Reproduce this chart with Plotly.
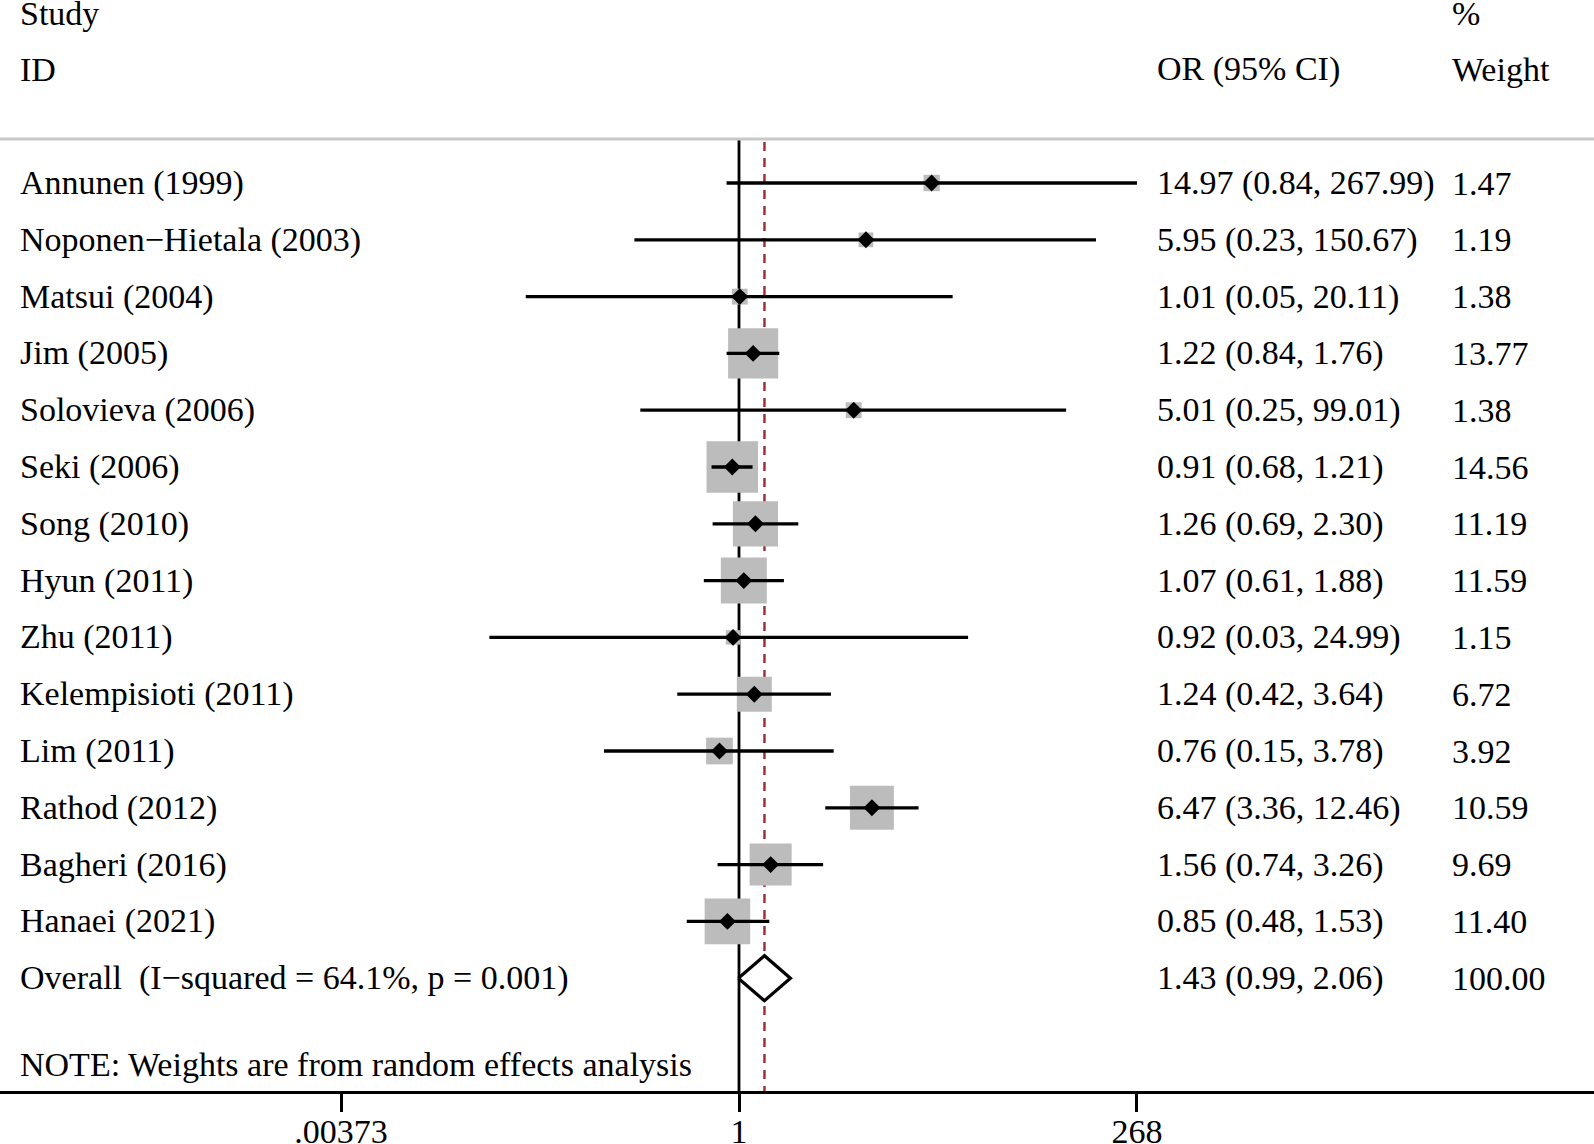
import math
import plotly.graph_objects as go

# ---------------- data ----------------
studies = ["Annunen (1999)", "Noponen\u2212Hietala (2003)", "Matsui (2004)", "Jim (2005)",
           "Solovieva (2006)", "Seki (2006)", "Song (2010)", "Hyun (2011)", "Zhu (2011)",
           "Kelempisioti (2011)", "Lim (2011)", "Rathod (2012)", "Bagheri (2016)", "Hanaei (2021)"]
or_vals = [14.97, 5.95, 1.01, 1.22, 5.01, 0.91, 1.26, 1.07, 0.92, 1.24, 0.76, 6.47, 1.56, 0.85]
ci_low = [0.84, 0.23, 0.05, 0.84, 0.25, 0.68, 0.69, 0.61, 0.03, 0.42, 0.15, 3.36, 0.74, 0.48]
ci_high = [267.99, 150.67, 20.11, 1.76, 99.01, 1.21, 2.30, 1.88, 24.99, 3.64, 3.78, 12.46, 3.26, 1.53]
weights = [1.47, 1.19, 1.38, 13.77, 1.38, 14.56, 11.19, 11.59, 1.15, 6.72, 3.92, 10.59, 9.69, 11.40]
overall_label = "Overall  (I\u2212squared = 64.1%, p = 0.001)"
overall_or, overall_low, overall_high, overall_weight = 1.43, 0.99, 2.06, 100.00
tick_vals = [0.00373, 1, 268]
tick_text = [".00373", "1", "268"]
note_text = "NOTE: Weights are from random effects analysis"

# ---------------- layout geometry ----------------
FW, FH = 1594, 1144
AX_Y = 1091                  # pixel row of the x axis
ROW0, ROWH = 183, 56.8       # pixel centre of first row, row spacing
X1PX, DEC = 739, 163.9       # pixel of OR=1, pixels per decade

def row_of_px(p):
    return (p - ROW0) / ROWH

xr = [-X1PX / DEC, (FW - X1PX) / DEC]
yr = [row_of_px(AX_Y), row_of_px(0)]

FONT = "Liberation Serif, Times New Roman, serif"
FS = 34
GRAY = "rgb(188,188,188)"
RED = "#9e2a2f"

n = len(studies)
rows = list(range(n))
orow = n

fig = go.Figure()

# null line at OR = 1
fig.add_trace(go.Scatter(x=[1, 1], y=[row_of_px(139), yr[0]], mode="lines",
                         line=dict(color="black", width=2.8), hoverinfo="skip"))
# overall effect dashed line
fig.add_trace(go.Scatter(x=[overall_or, overall_or], y=[row_of_px(142), yr[0]], mode="lines",
                         line=dict(color=RED, width=2.4, dash="9px,7px"), hoverinfo="skip"))
# weight boxes
fig.add_trace(go.Scatter(x=or_vals, y=rows, mode="markers",
                         marker=dict(symbol="square", color=GRAY, opacity=1,
                                     size=[13.5 * math.sqrt(w) for w in weights],
                                     line=dict(width=0)),
                         hoverinfo="skip"))
# CI lines
for i in range(n):
    fig.add_trace(go.Scatter(x=[ci_low[i], ci_high[i]], y=[rows[i], rows[i]], mode="lines",
                             line=dict(color="black", width=3.3), hoverinfo="skip"))
# point estimates
fig.add_trace(go.Scatter(x=or_vals, y=rows, mode="markers",
                         marker=dict(symbol="diamond", color="black", size=13, opacity=1,
                                     line=dict(width=0)),
                         hoverinfo="skip"))
# overall diamond
dh = 22.5 / ROWH
fig.add_trace(go.Scatter(x=[overall_low, overall_or, overall_high, overall_or, overall_low],
                         y=[orow, orow - dh, orow, orow + dh, orow],
                         mode="lines", fill="toself", fillcolor="white",
                         line=dict(color="black", width=3.2), hoverinfo="skip"))

ann = []
def txt(x_px, y_row, s):
    ann.append(dict(x=(x_px - 2) / FW, xref="paper", y=y_row, yref="y", text=s,
                    showarrow=False, xanchor="left", yanchor="middle",
                    font=dict(family=FONT, size=FS, color="black")))

X_STUDY, X_OR, X_WT = 20, 1157, 1452
txt(X_STUDY, row_of_px(13), "Study")
txt(X_STUDY, row_of_px(69), "ID")
txt(X_OR, row_of_px(69), "OR (95% CI)")
txt(X_WT, row_of_px(13), "%")
txt(X_WT, row_of_px(69), "Weight")
for i in range(n):
    txt(X_STUDY, rows[i], studies[i])
    txt(X_OR, rows[i], f"{or_vals[i]:.2f} ({ci_low[i]:.2f}, {ci_high[i]:.2f})")
    txt(X_WT, rows[i], f"{weights[i]:.2f}")
txt(X_STUDY, orow, overall_label)
txt(X_OR, orow, f"{overall_or:.2f} ({overall_low:.2f}, {overall_high:.2f})")
txt(X_WT, orow, f"{overall_weight:.2f}")
txt(X_STUDY, row_of_px(1064), note_text)

fig.update_layout(
    width=FW, height=FH, margin=dict(l=0, r=0, t=0, b=FH - AX_Y),
    paper_bgcolor="white", plot_bgcolor="white", showlegend=False,
    annotations=ann,
    shapes=[dict(type="line", xref="paper", x0=0, x1=1, yref="y",
                 y0=row_of_px(139), y1=row_of_px(139),
                 line=dict(color="rgb(200,200,200)", width=3))],
    xaxis=dict(type="log", range=xr, showgrid=False, zeroline=False, showline=True,
               linecolor="black", linewidth=3, ticks="outside", ticklen=18, tickwidth=3,
               tickcolor="black", tickvals=tick_vals, ticktext=tick_text,
               ticklabelstandoff=-10, automargin=False,
               tickfont=dict(family=FONT, size=FS, color="black"), fixedrange=True),
    yaxis=dict(range=yr, showgrid=False, zeroline=False, showline=False,
               showticklabels=False, ticks="", fixedrange=True),
)

fig.write_html("out.html", config={"displayModeBar": False},
               post_script="document.body.style.margin='0';document.body.style.overflow='hidden';")
